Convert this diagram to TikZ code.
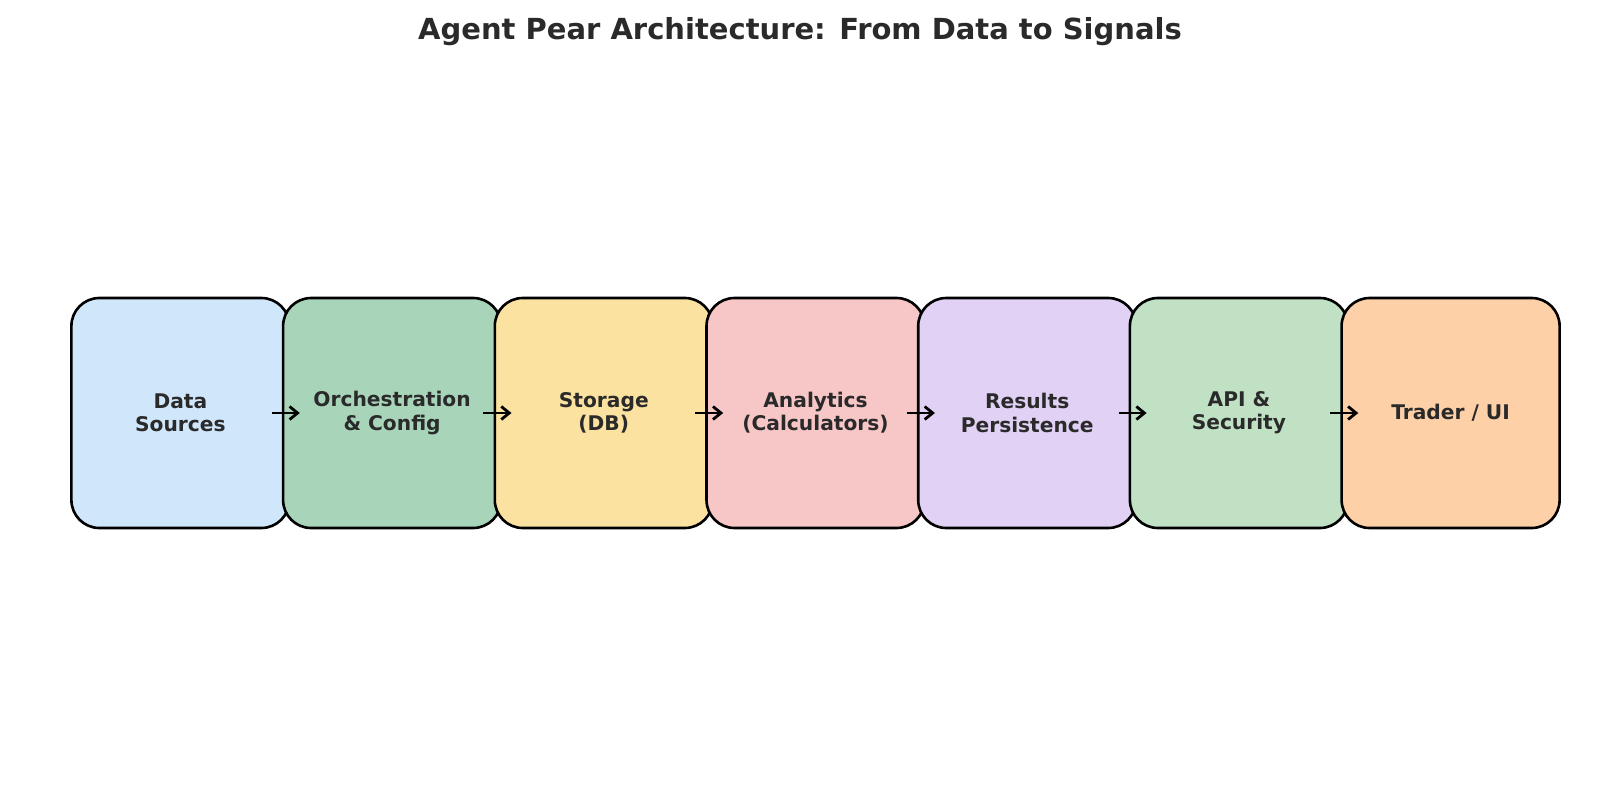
\documentclass[tikz,border=0pt]{standalone}
\usepackage{fontspec}
\setmainfont{DejaVu Sans}
\usetikzlibrary{arrows.meta}
\definecolor{txt}{HTML}{2A2A2A}
\definecolor{c1}{HTML}{D0E6FA}
\definecolor{c2}{HTML}{A8D5BA}
\definecolor{c3}{HTML}{FBE2A0}
\definecolor{c4}{HTML}{F7C6C7}
\definecolor{c5}{HTML}{E1D1F5}
\definecolor{c6}{HTML}{C1E1C5}
\definecolor{c7}{HTML}{FDD0A8}
\tikzset{
  stage/.style={draw=black, line width=2.6pt, rounded corners=28pt, minimum width=218pt, minimum height=230pt,
    inner sep=0pt, align=center, text=txt, font=\fontsize{20.2}{23.3}\selectfont\bfseries},
  flow/.style={draw=black, line width=2.8pt, -{Straight Barb[length=8pt,width=13pt,line width=2.8pt]}}
}
\begin{document}
\begin{tikzpicture}[x=1pt,y=-1pt]
\useasboundingbox (0,0) rectangle (1600,792);
\node[text=txt, font=\fontsize{29}{34}\selectfont\bfseries] (title) at (800,31.5) {Agent Pear Architecture: From Data to Signals};
\node[stage, fill=c1] (n1) at (180.4,413) {Data\\Sources};
\node[stage, fill=c2] (n2) at (392.1,413) {Orchestration\\\& Config};
\node[stage, fill=c3] (n3) at (603.8,413) {Storage\\(DB)};
\node[stage, fill=c4] (n4) at (815.5,413) {Analytics\\(Calculators)};
\node[stage, fill=c5] (n5) at (1027.2,413) {Results\\Persistence};
\node[stage, fill=c6] (n6) at (1238.9,413) {API \&\\Security};
\node[stage, fill=c7] (n7) at (1450.6,413) {Trader / UI};
\foreach \a/\b in {n1/n2,n2/n3,n3/n4,n4/n5,n5/n6,n6/n7}
  \draw[flow] ([xshift=-19pt]\a.east) -- ([xshift=18pt]\b.west);
\end{tikzpicture}
\end{document}
